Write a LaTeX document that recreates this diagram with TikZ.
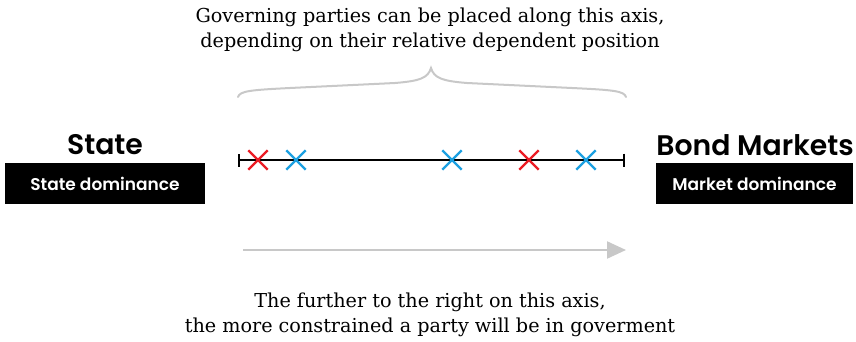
\documentclass[tikz,border=0pt]{standalone}
\usepackage{fontspec}
\usepackage{tikz}
\usetikzlibrary{arrows.meta,shapes.misc}
\setmainfont{DejaVu Serif}
\newfontfamily\sidefont{Poppins}[BoldFont=* SemiBold]
\definecolor{xred}{RGB}{235,28,36}
\definecolor{xblue}{RGB}{28,160,225}
\definecolor{lightgrey}{RGB}{200,200,200}
\tikzset{
  headlabel/.style={font=\sidefont\bfseries\fontsize{28.3}{30}\selectfont},
  darkbox/.style={fill=black,text=white,minimum width=200pt,minimum height=41pt,inner sep=0pt,
    font=\sidefont\bfseries\fontsize{17}{19}\selectfont},
  note/.style={align=center,font=\fontsize{19.2}{25}\selectfont},
  xmark/.style={cross out,draw=#1,line width=2.4pt,minimum size=17pt,inner sep=0pt},
}
\begin{document}
\begin{tikzpicture}[x=1pt,y=-1pt]
    \useasboundingbox (0,0) rectangle (856,342);
    \node[note] (top) at (430,30) {Governing parties can be placed along this axis,\\depending on their relative dependent position};
    % curly brace over the axis
    \coordinate (brL) at (238,97);
    \coordinate (brT) at (431,68);
    \coordinate (brR) at (626,97);
    \draw[lightgrey,line width=2pt,line cap=round]
      (brL) .. controls (240,91) and (250,90) .. (290,88)
      -- (395,83) .. controls (420,81) and (428,78) .. (brT)
      .. controls (434,78) and (442,81) .. (467,83)
      -- (572,88) .. controls (614,90) and (624,91) .. (brR);
    \node[headlabel] (state) at (105,145) {State};
    \node[darkbox] (statebox) at (105,183.5) {State dominance};
    \node[headlabel] (bond) at (755,145) {Bond Markets};
    \node[darkbox,minimum width=197pt] (bondbox) at (754.5,183.5) {Market dominance};
    \coordinate (axL) at (238,160);
    \coordinate (axR) at (625,160);
    \draw[line width=1.6pt,{Bar[width=13pt]}-{Bar[width=13pt]}] (axL) -- (axR);
    \node[xmark=xred] (r1) at (258,160) {};
    \node[xmark=xblue] (b1) at (296,160) {};
    \node[xmark=xblue] (b2) at (452,160) {};
    \node[xmark=xred] (r2) at (529,160) {};
    \node[xmark=xblue] (b3) at (586,160) {};
    \coordinate (arL) at (243,250);
    \coordinate (arR) at (626,250);
    \draw[lightgrey,line width=2.2pt,-{Triangle[length=19pt,width=17pt]}] (arL) -- (arR);
    \node[note] (bottom) at (430,315) {The further to the right on this axis,\\the more constrained a party will be in goverment};
\end{tikzpicture}
\end{document}
